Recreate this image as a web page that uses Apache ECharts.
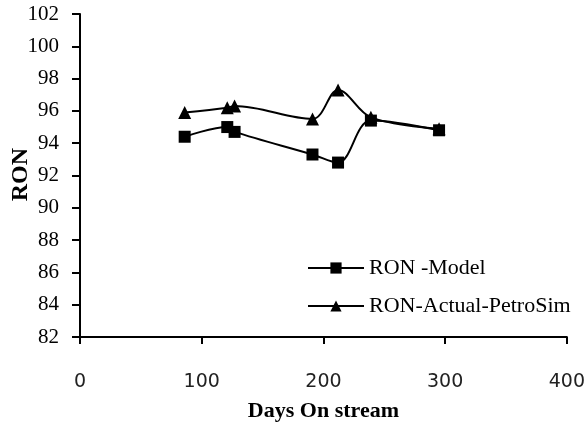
<!DOCTYPE html>
<html>
<head>
<meta charset="utf-8">
<script src="https://cdn.jsdelivr.net/npm/echarts@6/dist/echarts.min.js"></script>
<style>
html,body{margin:0;padding:0;background:#fff;overflow:hidden;}
#chart{width:588px;height:427px;}
</style>
</head>
<body>
<div id="chart"></div>
<script>
var days = [86, 121, 127, 191, 212, 239, 295];
var ronModel = [94.4, 95.0, 94.7, 93.3, 92.8, 95.4, 94.8];
var ronActual = [95.9, 96.2, 96.3, 95.5, 97.3, 95.6, 94.9];
var seriesNames = ['RON -Model', 'RON-Actual-PetroSim'];
var xTitle = 'Days On stream';
var yTitle = 'RON';

function pairs(xs, ys) { return xs.map(function (x, i) { return [x, ys[i]]; }); }

var serif = 'Liberation Serif';
var chart = echarts.init(document.getElementById('chart'), null, {renderer: 'canvas'});
chart.setOption({
  animation: false,
  backgroundColor: '#fff',
  grid: {left: 80, right: 20, top: 14, bottom: 84, containLabel: false},
  xAxis: {
    type: 'value', min: 0, max: 400, interval: 100,
    name: xTitle, nameLocation: 'middle', nameGap: 63,
    nameTextStyle: {fontFamily: serif, fontWeight: 'bold', fontSize: 22, color: '#000'},
    axisLine: {show: true, onZero: false, lineStyle: {color: '#000', width: 2}},
    axisTick: {show: true, inside: false, length: 7, lineStyle: {color: '#000', width: 2}},
    axisLabel: {margin: 36, fontFamily: 'DejaVu Sans', fontSize: 19, color: '#222'},
    splitLine: {show: false}
  },
  yAxis: {
    type: 'value', min: 82, max: 102, interval: 2,
    axisLine: {show: true, onZero: false, lineStyle: {color: '#000', width: 2}},
    axisTick: {show: true, inside: false, length: 8, lineStyle: {color: '#000', width: 2}},
    axisLabel: {margin: 21, fontFamily: serif, fontSize: 21, color: '#000'},
    splitLine: {show: false}
  },
  graphic: [{
    type: 'text', left: 9, top: 148,
    rotation: Math.PI / 2,
    style: {text: yTitle, fontFamily: serif, fontWeight: 'bold', fontSize: 24, fill: '#000'}
  }],
  legend: {
    orient: 'vertical', left: 302, top: 252,
    itemWidth: 56, itemHeight: 14, itemGap: 16,
    lineStyle: {width: 2},
    textStyle: {fontFamily: serif, fontSize: 22, color: '#000', lineHeight: 22},
    data: seriesNames
  },
  series: [
    {
      name: seriesNames[0], type: 'line', data: pairs(days, ronModel),
      smooth: 0.35, symbol: 'rect', symbolSize: 12,
      lineStyle: {color: '#000', width: 2}, itemStyle: {color: '#000'}
    },
    {
      name: seriesNames[1], type: 'line', data: pairs(days, ronActual),
      smooth: 0.35, symbol: 'triangle', symbolSize: 13,
      lineStyle: {color: '#000', width: 2}, itemStyle: {color: '#000'}
    }
  ]
});
</script>
</body>
</html>
